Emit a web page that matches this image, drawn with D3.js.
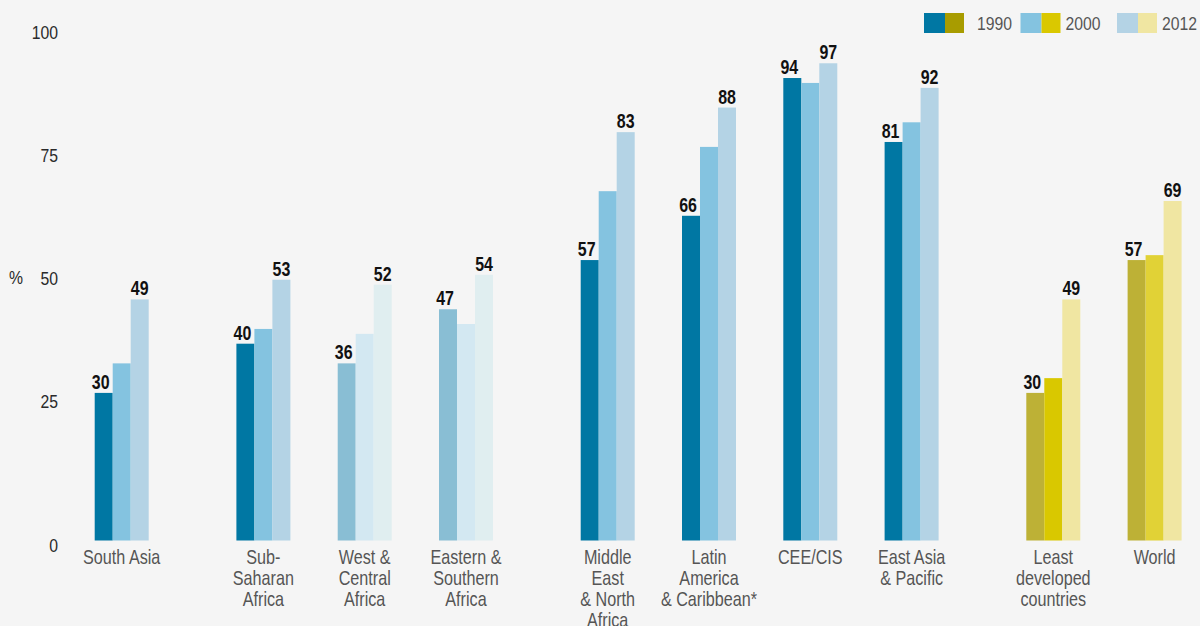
<!DOCTYPE html>
<html>
<head>
<meta charset="utf-8">
<script src="https://cdn.jsdelivr.net/npm/d3@7"></script>
<style>
  html, body { margin: 0; padding: 0; background: #f5f5f5; }
  svg { display: block; }
  text { font-family: "Liberation Sans", Arial, sans-serif; }
</style>
</head>
<body>
<svg id="chart" width="1200" height="626"></svg>
<script>
// ---- data ----
const categories = ["South Asia", "Sub-Saharan Africa", "West & Central Africa", "Eastern & Southern Africa",
  "Middle East & North Africa", "Latin America & Caribbean*", "CEE/CIS", "East Asia & Pacific",
  "Least developed countries", "World"];
const categoryLines = [["South Asia"], ["Sub-", "Saharan", "Africa"], ["West &", "Central", "Africa"],
  ["Eastern &", "Southern", "Africa"], ["Middle", "East", "& North", "Africa"],
  ["Latin", "America", "& Caribbean*"], ["CEE/CIS"], ["East Asia", "& Pacific"],
  ["Least", "developed", "countries"], ["World"]];
const categorySection = [0, 1, 1, 1, 2, 2, 2, 2, 3, 3];
const categoryPalette = ["blue", "blue", "pale", "pale", "blue", "blue", "blue", "blue", "gold", "gold2"];
const years = ["1990", "2000", "2012"];
const values1990 = [30, 40, 36, 47, 57, 66, 94, 81, 30, 57];
const values2000 = [36, 43, 42, 44, 71, 80, 93, 85, 33, 58];
const values2012 = [49, 53, 52, 54, 83, 88, 97, 92, 49, 69];
const labelledYears = ["1990", "2012"];
const yTicks = [0, 25, 50, 75, 100];
const palettes = {
  blue:  ["#0077a3", "#84c3e0", "#b4d3e5"],
  pale:  ["#89bed4", "#d3e8f2", "#e0eef0"],
  gold:  ["#bdb136", "#d9c800", "#f0e6a2"],
  gold2: ["#bdb136", "#e1d236", "#f0e6a2"]
};
const legendBlue = ["#0077a3", "#84c3e0", "#b4d3e5"];
const legendGold = ["#a89c00", "#dac800", "#f0e6a2"];

const seriesValues = { "1990": values1990, "2000": values2000, "2012": values2012 };

// ---- setup ----
const svg = d3.select("#chart");
const NARROW = 0.83;     // horizontal condensing of regular text
const NARROW_B = 0.76;   // horizontal condensing of bold value labels

const x0 = d3.scaleBand().domain(categories).range([94.7, 1060.4]).paddingInner(0.467).paddingOuter(0);
const sectionShift = d3.scaleLinear().domain([0, 3]).range([0, 121.2]);
const x1 = d3.scaleBand().domain(years).range([0, x0.bandwidth()]);
const y = d3.scaleLinear().domain([0, 100]).range([540.5, 48.5]);

const groupX = (c, i) => x0(c) + sectionShift(categorySection[i]);
const place = (x, yy, s) => `translate(${x},${yy}) scale(${s},1)`;

// ---- y axis ----
const yAxis = svg.append("g")
  .attr("transform", "translate(58,0)")
  .call(d3.axisLeft(y).tickValues(yTicks).tickSize(0).tickPadding(0));
yAxis.select(".domain").remove();
yAxis.selectAll(".tick text")
  .attr("x", 0).attr("y", 0)
  .attr("dy", "0.35em")
  .attr("transform", d => place(0, d === 0 ? 4.5 : -17, NARROW))
  .attr("text-anchor", "end")
  .attr("font-family", null)
  .attr("font-size", null)
  .style("font-size", "19px")
  .style("fill", "#2a2a2a");

svg.append("text")
  .attr("transform", place(9, y(50) - 17, NARROW))
  .attr("dy", "0.35em")
  .style("font-size", "19px").style("fill", "#2a2a2a")
  .text("%");

// ---- bars ----
const groups = svg.append("g").selectAll("g")
  .data(categories)
  .join("g")
  .attr("transform", (c, i) => `translate(${groupX(c, i)},0)`);

groups.selectAll("rect")
  .data((c, i) => years.map((yr, k) => ({ yr, k, v: seriesValues[yr][i], pal: palettes[categoryPalette[i]] })))
  .join("rect")
  .attr("x", d => x1(d.yr))
  .attr("width", x1.bandwidth())
  .attr("y", d => y(d.v))
  .attr("height", d => y(0) - y(d.v))
  .attr("fill", d => d.pal[d.k]);

groups.selectAll("text.val")
  .data((c, i) => years.filter(yr => labelledYears.includes(yr)).map(yr => ({ yr, v: seriesValues[yr][i] })))
  .join("text")
  .attr("class", "val")
  .attr("transform", d => place(x1(d.yr) + x1.bandwidth() / 2 + (d.yr === "1990" ? -3 : 0), y(d.v) - 4, NARROW_B))
  .attr("text-anchor", "middle")
  .style("font-size", "21px")
  .style("font-weight", "bold")
  .style("fill", "#111")
  .text(d => d.v);

// ---- category labels ----
groups.append("text")
  .attr("transform", place(x0.bandwidth() / 2, 564, NARROW))
  .attr("text-anchor", "middle")
  .style("font-size", "19.5px")
  .style("fill", "#555")
  .selectAll("tspan")
  .data((c, i) => categoryLines[i])
  .join("tspan")
  .attr("x", 0)
  .attr("dy", (d, j) => j === 0 ? 0 : 21)
  .text(d => d);

// ---- legend ----
const lx = d3.scalePoint().domain(years).range([924, 1117]);
const leg = svg.append("g").selectAll("g").data(years).join("g")
  .attr("transform", d => `translate(${lx(d)},13)`);
leg.append("rect").attr("x", 0).attr("y", 0).attr("width", 21).attr("height", 20)
  .attr("fill", (d, i) => legendBlue[i]);
leg.append("rect").attr("x", 21).attr("y", 0).attr("width", 19).attr("height", 20)
  .attr("fill", (d, i) => legendGold[i]);
leg.append("text")
  .attr("transform", (d, i) => place(i === 0 ? 53 : 45, 17, NARROW))
  .style("font-size", "19px").style("fill", "#555")
  .text(d => d);
</script>
</body>
</html>
